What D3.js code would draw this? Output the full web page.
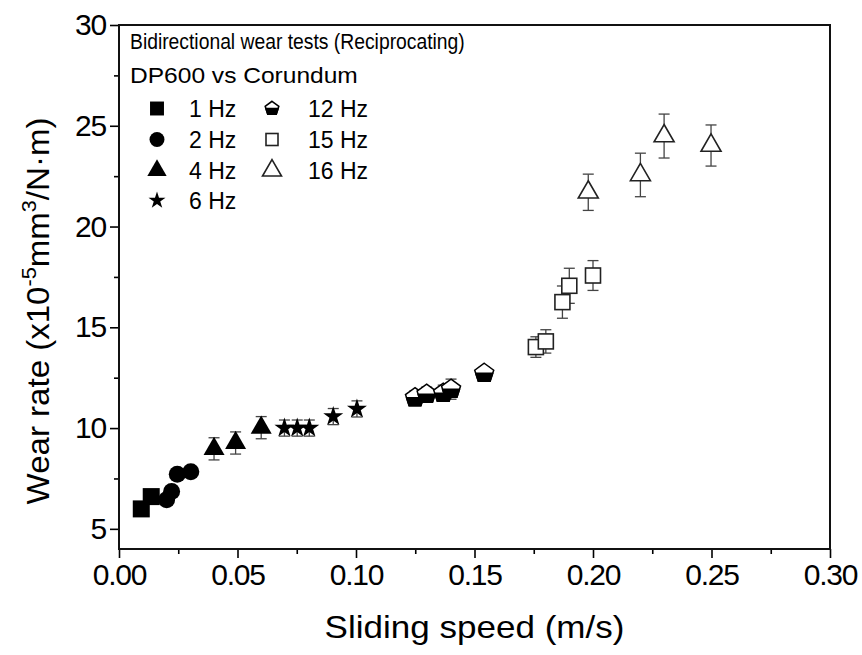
<!DOCTYPE html>
<html>
<head>
<meta charset="utf-8">
<script src="https://cdn.jsdelivr.net/npm/d3@7"></script>
<style>
  body { margin: 0; background: #fff; }
  text { font-family: "Liberation Sans", Arial, Helvetica, sans-serif; fill: #000; }
</style>
</head>
<body>
<svg id="chart" width="862" height="655"></svg>
<script>
// Axis ticks
const xTicks = [0, 0.05, 0.10, 0.15, 0.20, 0.25, 0.30];
const xMinorTicks = [0.025, 0.075, 0.125, 0.175, 0.225, 0.275];
const yTicks = [5, 10, 15, 20, 25, 30];
const yMinorTicks = [7.5, 12.5, 17.5, 22.5, 27.5];

// Legend text
const legendTitle = ["Bidirectional wear tests (Reciprocating)", "DP600 vs Corundum"];
const seriesNames = ["1 Hz", "2 Hz", "4 Hz", "6 Hz", "12 Hz", "15 Hz", "16 Hz"];
const seriesSymbols = ["square", "circle", "triangle", "star", "pentagonHalf", "squareOpen", "triangleOpen"];

// Measured wear rate (x10^-5 mm^3/N·m) against sliding speed (m/s), with error
const speed1Hz = [0.0094, 0.0136];
const wear1Hz  = [5.99, 6.60];
const err1Hz   = [0.2, 0.2];

const speed2Hz = [0.0201, 0.0222, 0.0246, 0.0303];
const wear2Hz  = [6.44, 6.85, 7.71, 7.83];
const err2Hz   = [0.25, 0.25, 0.25, 0.25];

const speed4Hz = [0.0401, 0.0492, 0.0600];
const wear4Hz  = [8.97, 9.26, 10.02];
const err4Hz   = [0.55, 0.55, 0.55];

const speed6Hz = [0.0698, 0.0752, 0.0803, 0.0904, 0.1004];
const wear6Hz  = [10.0, 10.0, 10.0, 10.57, 10.95];
const err6Hz   = [0.4, 0.4, 0.4, 0.4, 0.4];

const speed12Hz = [0.1249, 0.1298, 0.1368, 0.1401, 0.1541];
const wear12Hz  = [11.51, 11.68, 11.73, 11.93, 12.72];
const err12Hz   = [0.35, 0.35, 0.4, 0.5, 0.3];

const speed15Hz = [0.1759, 0.1801, 0.1871, 0.1900, 0.2000];
const wear15Hz  = [14.02, 14.30, 16.25, 17.06, 17.57];
const err15Hz   = [0.51, 0.58, 0.8, 0.87, 0.74];

const speed16Hz = [0.1980, 0.2200, 0.2300, 0.2498];
const wear16Hz  = [21.70, 22.56, 24.49, 24.02];
const err16Hz   = [0.9, 1.08, 1.09, 1.02];

const series = [
  { speed: speed1Hz,  wear: wear1Hz,  err: err1Hz },
  { speed: speed2Hz,  wear: wear2Hz,  err: err2Hz },
  { speed: speed4Hz,  wear: wear4Hz,  err: err4Hz },
  { speed: speed6Hz,  wear: wear6Hz,  err: err6Hz },
  { speed: speed12Hz, wear: wear12Hz, err: err12Hz },
  { speed: speed15Hz, wear: wear15Hz, err: err15Hz },
  { speed: speed16Hz, wear: wear16Hz, err: err16Hz }
].map((s, i) => ({
  name: seriesNames[i],
  symbol: seriesSymbols[i],
  points: s.speed.map((v, j) => ({ x: v, y: s.wear[j], e: s.err[j] }))
}));

const svg = d3.select("#chart");
const plotLeft = 119, plotRight = 830, plotTop = 25, plotBottom = 549;

const x = d3.scaleLinear().domain([0, 0.30]).range([plotLeft, plotRight]);
const y = d3.scaleLinear().domain([4, 30]).range([plotBottom, plotTop]);

// Scale a text element horizontally so it spans the given width
function fitWidth(textSel, width) {
  const w = textSel.node().getComputedTextLength();
  if (w > 0) textSel.attr("transform", `scale(${width / w},1)`);
}

// Axes
svg.append("g").attr("transform", `translate(0,${plotBottom})`)
  .call(d3.axisBottom(x).tickValues(xTicks).tickFormat(d3.format(".2f"))
    .tickSize(9).tickSizeOuter(0).tickPadding(6));
svg.append("g").attr("transform", `translate(0,${plotBottom})`)
  .call(d3.axisBottom(x).tickValues(xMinorTicks).tickFormat("").tickSize(5).tickSizeOuter(0));

svg.append("g").attr("transform", `translate(${plotLeft},0)`)
  .call(d3.axisLeft(y).tickValues(yTicks).tickFormat(d3.format("d"))
    .tickSize(9).tickSizeOuter(0).tickPadding(4));
svg.append("g").attr("transform", `translate(${plotLeft},0)`)
  .call(d3.axisLeft(y).tickValues(yMinorTicks).tickFormat("").tickSize(5).tickSizeOuter(0));

svg.selectAll(".domain").remove();
svg.selectAll(".tick line").attr("stroke", "#000").attr("stroke-width", 1.6);
svg.selectAll(".tick text").attr("font-size", 30).attr("fill", "#000")
  .style("font-family", '"Liberation Sans", Arial, sans-serif').attr("letter-spacing", -1.2);

// Frame
svg.append("rect").attr("x", plotLeft).attr("y", plotTop)
  .attr("width", plotRight - plotLeft).attr("height", plotBottom - plotTop)
  .attr("fill", "none").attr("stroke", "#111").attr("stroke-width", 2);

// Axis titles
const xt = svg.append("g").attr("transform", `translate(${(plotLeft + plotRight) / 2},638)`)
  .append("text").attr("text-anchor", "middle").attr("font-size", 32)
  .text("Sliding speed (m/s)");
fitWidth(xt, 300);

const yt = svg.append("g").attr("transform", "translate(49,311) rotate(-90)")
  .append("text").attr("text-anchor", "middle").attr("font-size", 32);
yt.append("tspan").text("Wear rate (x10");
yt.append("tspan").attr("font-size", 21).attr("dy", -13).text("-5");
yt.append("tspan").attr("dy", 13).text("mm");
yt.append("tspan").attr("font-size", 21).attr("dy", -13).text("3");
yt.append("tspan").attr("dy", 13).text("/N\u00B7m)");
fitWidth(yt, 387);

// Marker shapes
function starPath(R) {
  const r = R * 0.382;
  const pts = [];
  for (let k = 0; k < 10; k++) {
    const a = -Math.PI / 2 + k * Math.PI / 5;
    const rr = k % 2 === 0 ? R : r;
    pts.push([rr * Math.cos(a), rr * Math.sin(a)]);
  }
  return "M" + pts.map(p => p.join(",")).join("L") + "Z";
}
function pentagonPts(r) {
  const pts = [];
  for (let k = 0; k < 5; k++) {
    const a = -Math.PI / 2 + k * 2 * Math.PI / 5;
    pts.push([r * Math.cos(a), r * Math.sin(a)]);
  }
  return pts;
}
function trianglePath(s) {
  const h = s * Math.sqrt(3) / 2;
  return `M0,${-2 * h / 3}L${s / 2},${h / 3}L${-s / 2},${h / 3}Z`;
}

function drawMarker(g, symbol, cx, cy, scale) {
  const m = g.append("g").attr("transform", `translate(${cx},${cy})`);
  switch (symbol) {
    case "square": {
      const s = 17 * scale;
      m.append("rect").attr("x", -s / 2).attr("y", -s / 2).attr("width", s).attr("height", s).attr("fill", "#000");
      break;
    }
    case "circle":
      m.append("circle").attr("r", 8.5 * scale).attr("fill", "#000");
      break;
    case "triangle":
      m.append("path").attr("d", trianglePath(21 * scale)).attr("fill", "#000");
      break;
    case "star":
      m.append("path").attr("d", starPath(10.5 * scale)).attr("fill", "#000");
      break;
    case "pentagonHalf": {
      const r = 10 * scale;
      const pts = pentagonPts(r);
      m.append("polygon").attr("points", pts.map(p => p.join(",")).join(" "))
        .attr("fill", "#fff").attr("stroke", "#000").attr("stroke-width", 1.5);
      // lower half filled
      const xr = 0.851 * r;
      const lower = [[xr, 0], pts[2], pts[3], [-xr, 0]];
      m.append("polygon").attr("points", lower.map(p => p.join(",")).join(" "))
        .attr("fill", "#000").attr("stroke", "#000").attr("stroke-width", 1.5).attr("stroke-linejoin", "round");
      break;
    }
    case "squareOpen": {
      const s = 15 * scale;
      m.append("rect").attr("x", -s / 2).attr("y", -s / 2).attr("width", s).attr("height", s)
        .attr("fill", "#fff").attr("stroke", "#222").attr("stroke-width", 1.6);
      break;
    }
    case "triangleOpen":
      m.append("path").attr("d", trianglePath(20 * scale))
        .attr("fill", "#fff").attr("stroke", "#222").attr("stroke-width", 1.6).attr("stroke-linejoin", "miter");
      break;
  }
}

// Error bars
const errG = svg.append("g");
series.forEach(s => {
  s.points.forEach(p => {
    const px = x(p.x), y1 = y(p.y + p.e), y0 = y(p.y - p.e);
    errG.append("line").attr("x1", px).attr("x2", px).attr("y1", y1).attr("y2", y0)
      .attr("stroke", "#444").attr("stroke-width", 1.3);
    [y1, y0].forEach(yy => errG.append("line").attr("x1", px - 5.5).attr("x2", px + 5.5)
      .attr("y1", yy).attr("y2", yy).attr("stroke", "#444").attr("stroke-width", 1.3));
  });
});

// Markers
const markG = svg.append("g");
series.forEach(s => {
  s.points.forEach(p => drawMarker(markG, s.symbol, x(p.x), y(p.y), 1));
});

// Legend
const lg = svg.append("g");
const t1 = lg.append("g").attr("transform", "translate(130,49)")
  .append("text").attr("font-size", 22).text(legendTitle[0]);
fitWidth(t1, 335);
const t2 = lg.append("g").attr("transform", "translate(130,83)")
  .append("text").attr("font-size", 22).text(legendTitle[1]);
fitWidth(t2, 228);

const rowBase = [117, 148, 179, 209];
const legendScale = [0.82, 0.88, 0.92, 0.85, 0.72, 0.8, 0.95];
series.forEach((s, i) => {
  const col = i < 4 ? 0 : 1;
  const row = i < 4 ? i : i - 4;
  const sx = col === 0 ? 157 : 272;
  const tx = col === 0 ? 189 : 308;
  const base = rowBase[row];
  drawMarker(lg, s.symbol, sx, base - 8.5, legendScale[i]);
  lg.append("text").attr("x", tx).attr("y", base).attr("font-size", 23).text(s.name);
});
</script>
</body>
</html>
